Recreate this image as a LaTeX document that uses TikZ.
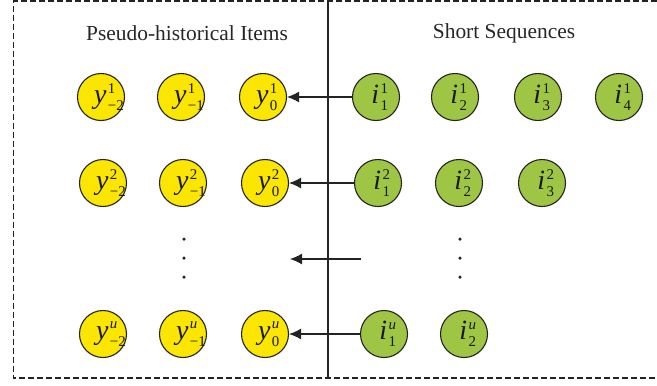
\documentclass[tikz,border=0pt]{standalone}
\usepackage{fontspec}
\setmainfont{Liberation Serif}
\usetikzlibrary{arrows.meta}
\definecolor{itemyellow}{RGB}{250,230,0}
\definecolor{seqgreen}{RGB}{158,198,68}
\definecolor{inkgray}{RGB}{35,35,35}
% script size used for item indices
\newcommand{\scr}{\fontsize{15}{15}\selectfont}
% super- and subscript stacked after the base letter
\newcommand{\scriptstack}[2]{%
  \setbox0\hbox{\scr #1}\setbox2\hbox{\scr #2}%
  \ifdim\wd0>\wd2 \dimen0=\wd0 \else \dimen0=\wd2 \fi
  \rlap{\raisebox{10.5bp}{\box0}}\rlap{\raisebox{-7bp}{\box2}}\hspace{\dimen0}}
% item label: italic base letter with index pair
\newcommand{\itm}[3]{{\fontsize{28}{28}\selectfont\itshape #1\/}\kern1.5bp\scriptstack{#2}{#3}}
\begin{document}
\begin{tikzpicture}[x=1bp,y=-1bp,
  ball/.style={circle,draw=inkgray,line width=1.1bp,minimum size=47bp,inner sep=0pt,text=black!90},
  histball/.style={ball,fill=itemyellow},
  seqball/.style={ball,fill=seqgreen},
  title/.style={font=\fontsize{21.5}{23}\selectfont,text=black!85},
  link/.style={line width=1.2bp,draw=inkgray,-{Latex[length=12bp,width=11bp]}},
  dot/.style={circle,fill=inkgray,inner sep=0pt,minimum size=3.5bp}]
\useasboundingbox (0,0) rectangle (657,385);

% frame and divider
\draw[line width=1.3bp,dash pattern=on 6bp off 3bp,draw=inkgray]
  (657,1) -- (13.5,1) -- (13.5,378) -- (657,378);
\draw[line width=1.3bp,draw=inkgray] (328,1) -- (328,378);

% titles
\node[title] (tl) at (187,33) {Pseudo-historical Items};
\node[title] (tr) at (504,33) {Short Sequences};

% pseudo-historical items
\node[histball] (y12) at (101,97)  {\itm{y}{1}{−2}};
\node[histball] (y11) at (181,97)  {\itm{y}{1}{−1}};
\node[histball] (y10) at (263,97)  {\itm{y}{1}{0}};
\node[histball] (y22) at (103,183) {\itm{y}{2}{−2}};
\node[histball] (y21) at (183,183) {\itm{y}{2}{−1}};
\node[histball] (y20) at (265,183) {\itm{y}{2}{0}};
\node[histball] (yu2) at (103,334) {\itm{y}{\itshape u}{−2}};
\node[histball] (yu1) at (183,334) {\itm{y}{\itshape u}{−1}};
\node[histball] (yu0) at (265,334) {\itm{y}{\itshape u}{0}};

% short sequences
\node[seqball] (i11) at (376,97)  {\itm{i}{1}{1}};
\node[seqball] (i12) at (455,97)  {\itm{i}{1}{2}};
\node[seqball] (i13) at (538,97)  {\itm{i}{1}{3}};
\node[seqball] (i14) at (619,97)  {\itm{i}{1}{4}};
\node[seqball] (i21) at (378,183) {\itm{i}{2}{1}};
\node[seqball] (i22) at (459,183) {\itm{i}{2}{2}};
\node[seqball] (i23) at (542,183) {\itm{i}{2}{3}};
\node[seqball] (iu1) at (384,334) {\itm{i}{\itshape u}{1}};
\node[seqball] (iu2) at (464,334) {\itm{i}{\itshape u}{2}};

% vertical ellipses
\node[dot] (ld1) at (184,239) {};
\node[dot] (ld2) at (184,258) {};
\node[dot] (ld3) at (184,277) {};
\node[dot] (rd1) at (460,239) {};
\node[dot] (rd2) at (460,258) {};
\node[dot] (rd3) at (460,277) {};

% mapping arrows
\coordinate (ms) at (361,259);
\coordinate (me) at (290,259);
\draw[link] (i11) -- (y10);
\draw[link] (i21) -- (y20);
\draw[link] (ms) -- (me);
\draw[link] (iu1) -- (yu0);
\end{tikzpicture}
\end{document}
